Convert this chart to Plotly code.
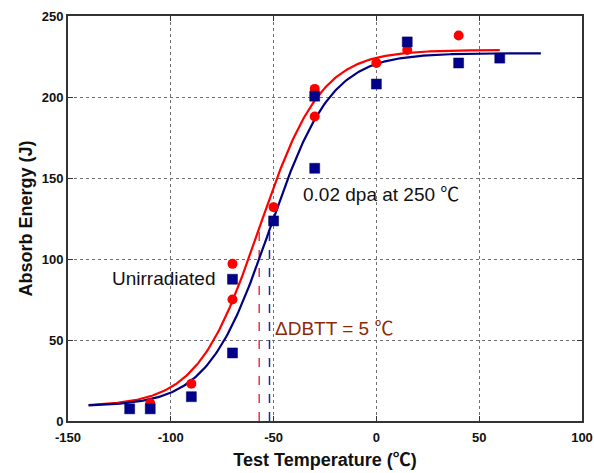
import numpy as np
import plotly.graph_objects as go

# Charpy impact results: test temperature (°C) vs absorbed energy (J)
unirr_temp = [-110, -90, -70, -70, -50, -30, -30, 0, 15, 40]
unirr_energy = [11, 23, 97, 75, 132, 205, 188, 221, 229, 238]

irr_temp = [-120, -110, -90, -70, -70, -50, -30, -30, 0, 15, 40, 60]
irr_energy = [7.5, 7.5, 15, 87.5, 42, 123.5, 200.5, 156, 208, 234, 221, 224]

# tanh fit parameters: [mid-energy, half-range, DBTT, width]
unirr_fit = [119, 110, -57, 30]
irr_fit = [118, 109, -52, 30]
unirr_span = [-140, 60]
irr_span = [-140, 80]

x_ticks = [-150, -100, -50, 0, 50, 100]
x_tick_text = ["-150", "-100", "-50", "0", "50", "100"]
y_ticks = [0, 50, 100, 150, 200, 250]
y_tick_text = ["0", "50", "100", "150", "200", "250"]

RED = "#ff0000"
NAVY = "#000080"
SANS = "Liberation Sans, Arial, sans-serif"
DEG_C = '<span style="font-family:\'Noto Sans CJK SC\'">℃</span>'


def tanh_curve(params, span):
    a, b, t0, c = params
    t = np.linspace(span[0], span[1], 300)
    return t, a + b * np.tanh((t - t0) / c)


fig = go.Figure()

t_u, e_u = tanh_curve(unirr_fit, unirr_span)
t_i, e_i = tanh_curve(irr_fit, irr_span)

# DBTT markers: dashed drop lines from the curve mid-point to the axis
fig.add_trace(go.Scatter(x=[unirr_fit[2], unirr_fit[2]], y=[0, unirr_fit[0]],
                         mode="lines", line=dict(color="#e8344a", width=1.5, dash="dash"),
                         showlegend=False))
fig.add_trace(go.Scatter(x=[irr_fit[2], irr_fit[2]], y=[0, irr_fit[0]],
                         mode="lines", line=dict(color="#1a2a8c", width=1.5, dash="dash"),
                         showlegend=False))

fig.add_trace(go.Scatter(x=t_u, y=e_u, mode="lines",
                         line=dict(color=RED, width=2.2), showlegend=False))
fig.add_trace(go.Scatter(x=t_i, y=e_i, mode="lines",
                         line=dict(color=NAVY, width=2.2), showlegend=False))

fig.add_trace(go.Scatter(x=unirr_temp, y=unirr_energy, mode="markers",
                         marker=dict(symbol="circle", size=10, color=RED,
                                     line=dict(width=0)),
                         showlegend=False))
fig.add_trace(go.Scatter(x=irr_temp, y=irr_energy, mode="markers",
                         marker=dict(symbol="square", size=10, color="#00008b",
                                     line=dict(width=0.5, color="#000050")),
                         showlegend=False))

label_font = dict(family=SANS, size=19, color="#111111")

fig.add_annotation(x=-77, y=88, text="Unirradiated", showarrow=False,
                   xanchor="right", yanchor="middle", font=label_font)
fig.add_annotation(x=-36.5, y=141, text="0.02 dpa at 250 " + DEG_C, showarrow=False,
                   xanchor="left", yanchor="middle", font=label_font)
fig.add_annotation(x=-50.5, y=58.5, text="ΔDBTT = 5 " + DEG_C, showarrow=False,
                   xanchor="left", yanchor="middle",
                   font=dict(family=SANS, size=19, color="#8b2a0a"))

axis_common = dict(
    showline=True, linecolor="#333333", linewidth=2, mirror="ticks",
    ticks="inside", ticklen=5, tickcolor="#333333", tickwidth=1,
    showgrid=True, gridcolor="#707070", gridwidth=1, griddash="dot",
    zeroline=False,
    tickfont=dict(family=SANS, size=13, color="#111111", weight="bold"),
)

fig.update_xaxes(range=[-150, 100], tickvals=x_ticks, ticktext=x_tick_text,
                 ticklabelstandoff=3,
                 title=dict(text="Test Temperature (" + DEG_C + ")", standoff=6,
                            font=dict(family=SANS, size=18, color="#111111",
                                      weight="bold")),
                 **axis_common)
fig.update_yaxes(range=[0, 250], tickvals=y_ticks, ticktext=y_tick_text,
                 title=dict(text="Absorb Energy (J)", standoff=4,
                            font=dict(family=SANS, size=18, color="#111111",
                                      weight="bold")),
                 **axis_common)

fig.update_layout(
    width=594, height=473,
    margin=dict(l=68, r=12, t=16, b=52, autoexpand=False),
    paper_bgcolor="white", plot_bgcolor="white",
)

fig.write_html("out.html")
